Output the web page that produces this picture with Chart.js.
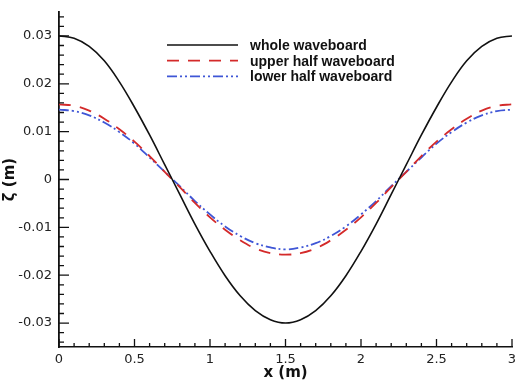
<!DOCTYPE html>
<html>
<head>
<meta charset="utf-8">
<script src="https://cdn.jsdelivr.net/npm/chart.js@4"></script>
<style>
  html, body { margin: 0; padding: 0; background: #fff; }
  #wrap { width: 518px; height: 381px; }
</style>
</head>
<body>
<div id="wrap"><canvas id="waveChart" width="518" height="381"></canvas></div>
<script>
// x positions along the tank (m)
const xValues = [0, 0.1, 0.2, 0.3, 0.4, 0.5, 0.6, 0.7, 0.8, 0.9, 1.0,
                 1.1, 1.2, 1.3, 1.4, 1.5, 1.6, 1.7, 1.8, 1.9, 2.0,
                 2.1, 2.2, 2.3, 2.4, 2.5, 2.6, 2.7, 2.8, 2.9, 3.0];

// surface elevation (m)
const wholeBoard = [0.0300, 0.0295, 0.0278, 0.0248, 0.0204, 0.0151, 0.0093, 0.0031, -0.0031, -0.0093, -0.0150,
                    -0.0201, -0.0243, -0.0274, -0.0293, -0.0300, -0.0293, -0.0274, -0.0243, -0.0201, -0.0150,
                    -0.0093, -0.0031, 0.0031, 0.0093, 0.0151, 0.0204, 0.0248, 0.0278, 0.0295, 0.0300];
const upperHalf = [0.0157, 0.0154, 0.0144, 0.0127, 0.0105, 0.0079, 0.0049, 0.0016, -0.0016, -0.0049, -0.0079,
                   -0.0105, -0.0127, -0.0144, -0.0154, -0.0157, -0.0154, -0.0144, -0.0127, -0.0105, -0.0079,
                   -0.0049, -0.0016, 0.0016, 0.0049, 0.0079, 0.0105, 0.0127, 0.0144, 0.0154, 0.0157];
const lowerHalf = [0.0146, 0.0143, 0.0134, 0.0119, 0.0099, 0.0075, 0.0046, 0.0016, -0.0014, -0.0045, -0.0073,
                   -0.0098, -0.0118, -0.0133, -0.0142, -0.0146, -0.0142, -0.0133, -0.0118, -0.0098, -0.0073,
                   -0.0045, -0.0014, 0.0016, 0.0046, 0.0075, 0.0099, 0.0119, 0.0134, 0.0143, 0.0146];

const seriesLabels = ['whole waveboard', 'upper half waveboard', 'lower half waveboard'];

// axis ticks
const xMajorTicks = [0, 0.5, 1, 1.5, 2, 2.5, 3];
const yMajorTicks = [-0.03, -0.02, -0.01, 0, 0.01, 0.02, 0.03];

const TICK_FONT = '"DejaVu Sans", sans-serif';
const LEGEND_FONT = '"Liberation Sans", Arial, sans-serif';

function toPoints(ys) {
    return xValues.map((x, i) => ({ x: x, y: ys[i] }));
}

// Inward tick marks (major + minor), drawn with the chart scales
const innerTicks = {
    id: 'innerTicks',
    afterDraw(chart) {
        const ctx = chart.ctx;
        const xs = chart.scales.x;
        const ys = chart.scales.y;
        const area = chart.chartArea;
        ctx.save();
        ctx.strokeStyle = '#111';
        ctx.lineWidth = 1.3;
        ctx.beginPath();
        for (let i = 0; i <= 30; i++) {
            const px = xs.getPixelForValue(i / 10);
            const len = (i % 5 === 0) ? 8 : 4;
            ctx.moveTo(px, area.bottom);
            ctx.lineTo(px, area.bottom - len);
        }
        for (let i = -17; i <= 17; i++) {
            const py = ys.getPixelForValue(i * 0.002);
            const len = (i % 5 === 0) ? 10 : 5;
            ctx.moveTo(area.left, py);
            ctx.lineTo(area.left + len, py);
        }
        ctx.stroke();
        ctx.restore();
    }
};

// Legend with line samples inside the plot
const lineLegend = {
    id: 'lineLegend',
    afterDraw(chart) {
        const ctx = chart.ctx;
        ctx.save();
        ctx.font = 'bold 14px ' + LEGEND_FONT;
        ctx.textBaseline = 'middle';
        chart.data.datasets.forEach((ds, i) => {
            const y = 45 + i * 15.7;
            ctx.strokeStyle = ds.borderColor;
            ctx.lineWidth = ds.borderWidth;
            ctx.setLineDash(ds.borderDash || []);
            ctx.beginPath();
            ctx.moveTo(167, y);
            ctx.lineTo(238, y);
            ctx.stroke();
            ctx.setLineDash([]);
            ctx.fillStyle = '#111';
            ctx.fillText(ds.label, 250, y + 1);
        });
        ctx.restore();
    }
};

const ctx = document.getElementById('waveChart').getContext('2d');
const waveChart = new Chart(ctx, {
    type: 'line',
    data: {
        datasets: [
            {
                label: seriesLabels[0],
                data: toPoints(wholeBoard),
                borderColor: '#111111',
                borderWidth: 1.6,
                pointRadius: 0,
                tension: 0.4
            },
            {
                label: seriesLabels[1],
                data: toPoints(upperHalf),
                borderColor: '#d42a2a',
                borderWidth: 1.8,
                borderDash: [12, 9],
                pointRadius: 0,
                tension: 0.4
            },
            {
                label: seriesLabels[2],
                data: toPoints(lowerHalf),
                borderColor: '#3f56d6',
                borderWidth: 1.8,
                borderDash: [10, 3, 2, 3, 2, 3],
                pointRadius: 0,
                tension: 0.4
            }
        ]
    },
    options: {
        responsive: false,
        animation: false,
        events: [],
        layout: { padding: { top: 12, right: 6, left: 0, bottom: 0 } },
        plugins: {
            legend: { display: false },
            tooltip: { enabled: false }
        },
        scales: {
            x: {
                type: 'linear',
                min: 0,
                max: 3,
                afterBuildTicks: (scale) => {
                    scale.ticks = xMajorTicks.map(v => ({ value: v }));
                },
                afterFit: (scale) => {
                    scale.height = 34;
                    scale.paddingLeft = 0;
                    scale.paddingRight = 0;
                },
                grid: { display: false, drawTicks: false },
                border: { display: true, color: '#111', width: 1.6 },
                ticks: {
                    color: '#222',
                    padding: 5,
                    maxRotation: 0,
                    font: { family: TICK_FONT, size: 13 },
                    callback: (v) => String(Math.round(v * 10) / 10)
                },
                title: {
                    display: true,
                    text: 'x (m)',
                    color: '#111',
                    padding: { top: 0, bottom: 0 },
                    font: { family: TICK_FONT, size: 15, weight: 'bold', lineHeight: 1.0 }
                }
            },
            y: {
                type: 'linear',
                min: -0.035,
                max: 0.035,
                afterBuildTicks: (scale) => {
                    scale.ticks = yMajorTicks.map(v => ({ value: v }));
                },
                afterFit: (scale) => {
                    scale.width = 59;
                    scale.paddingTop = 0;
                    scale.paddingBottom = 0;
                },
                grid: { display: false, drawTicks: false },
                border: { display: true, color: '#111', width: 1.8 },
                ticks: {
                    color: '#222',
                    padding: 7,
                    font: { family: TICK_FONT, size: 13 },
                    callback: (v) => String(Math.round(v * 100) / 100)
                },
                title: {
                    display: true,
                    text: 'ζ (m)',
                    color: '#111',
                    padding: { top: 3, bottom: 0 },
                    font: { family: TICK_FONT, size: 15, weight: 'bold', lineHeight: 1.0 }
                }
            }
        }
    },
    plugins: [innerTicks, lineLegend]
});
</script>
</body>
</html>
